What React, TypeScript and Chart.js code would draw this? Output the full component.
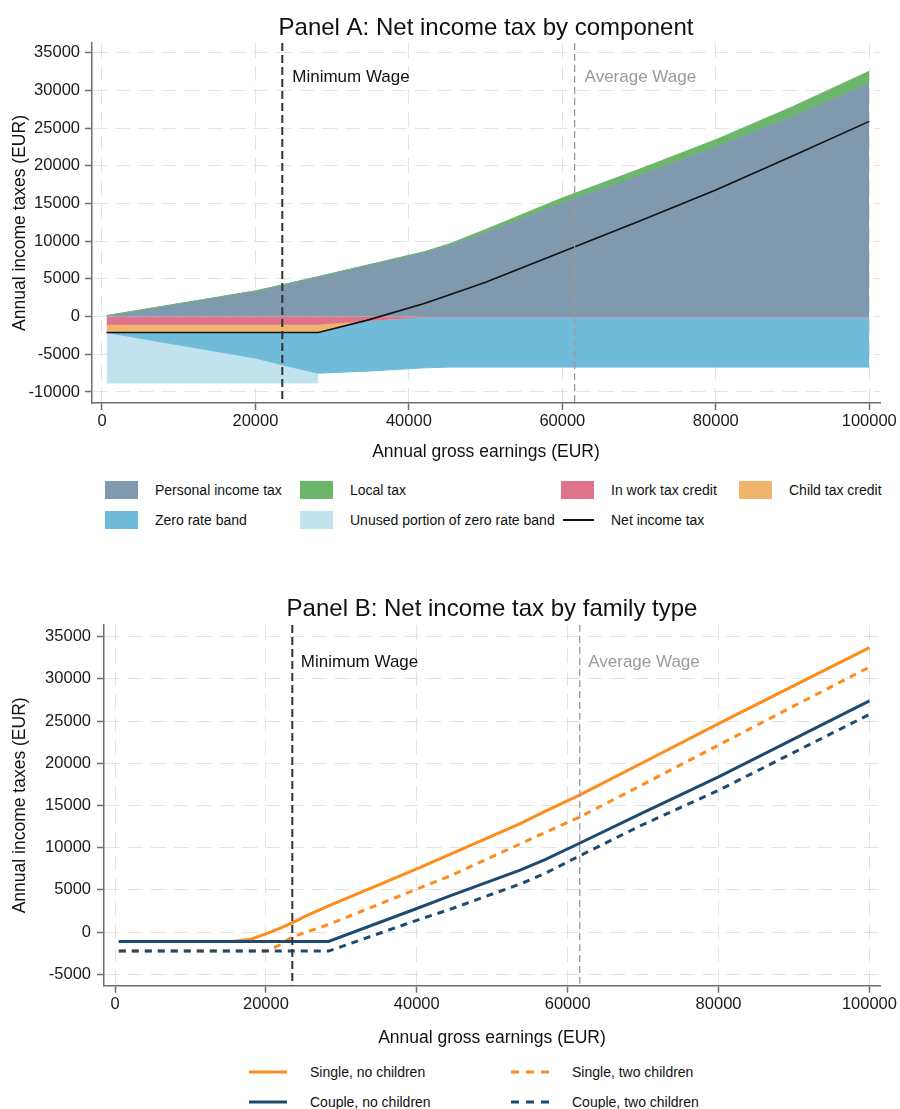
import React, { useEffect, useRef } from 'react';
import { Chart, registerables } from 'chart.js';

Chart.register(...registerables);

const FONT = '"Liberation Sans", Arial, Helvetica, sans-serif';

// ---------- Panel A: Net income tax by component ----------
const earningsA = [600, 20000, 23500, 28200, 34500, 42000, 45400, 50000, 60000, 70000, 80000, 90000, 100000];
const personalIncomeTax = [130, 3400, 4200, 5300, 6800, 8550, 9500, 11200, 15100, 18750, 22550, 26600, 31000];
const localTax = [0, 0, 0, 0, 0, 60, 200, 350, 650, 790, 920, 1250, 1550];
const inWorkTaxCredit = [-1000, -1000, -1000, -1000, -540, 0, 0, 0, 0, 0, 0, 0, 0];
const childTaxCredit = [-1100, -1100, -1100, -1100, 0, 0, 0, 0, 0, 0, 0, 0, 0];
const zeroRateBand = [0, -3400, -4300, -5400, -6700, -6800, -6700, -6700, -6700, -6700, -6700, -6700, -6700];
const unusedZeroRateBand: (number | null)[] = [-6700, -3300, -2400, -1300, null, null, null, null, null, null, null, null, null];
const netIncomeTax = [-2100, -2100, -2100, -2100, -500, 1750, 2950, 4550, 8600, 12650, 16800, 21300, 25900];

const componentNames = [
  'Personal income tax',
  'Local tax',
  'In work tax credit',
  'Child tax credit',
  'Zero rate band',
  'Unused portion of zero rate band',
  'Net income tax',
];
const componentColors = ['#7f99ae', '#6cb66c', '#e0728c', '#f0b46c', '#6fbbd9', '#c0e3ee', '#111111'];

// ---------- Panel B: Net income tax by family type ----------
const earningsB = [500, 15500, 18000, 20000, 21900, 23400, 25400, 28300, 40000, 44400, 53700, 57000, 61500, 70000, 80000, 90000, 100000];
const singleNoChildren = [-1100, -1100, -850, -200, 480, 1050, 1950, 3100, 7500, 9200, 12850, 14300, 16200, 20100, 24700, 29200, 33700];
const singleTwoChildren = [-2250, -2250, -2250, -2250, -1500, -600, 0, 900, 5100, 6650, 10450, 11800, 13600, 17500, 22150, 26800, 31400];
const coupleNoChildren = [-1100, -1100, -1100, -1100, -1100, -1100, -1100, -1100, 2800, 4300, 7350, 8600, 10500, 14150, 18400, 22900, 27400];
const coupleTwoChildren = [-2250, -2250, -2250, -2250, -2250, -2250, -2250, -2250, 1400, 2700, 5700, 6950, 9000, 12750, 16800, 21300, 25800];

const familyNames = ['Single, no children', 'Single, two children', 'Couple, no children', 'Couple, two children'];
const familyColors = ['#ff8c1a', '#ff8c1a', '#1f4a70', '#1f4a70'];
const familyDashed = [false, true, false, true];

// ---------- shared ----------
const minimumWage = 23500;
const averageWage = 61600;
const xTicks = [0, 20000, 40000, 60000, 80000, 100000];
const yTicksA = [-10000, -5000, 0, 5000, 10000, 15000, 20000, 25000, 30000, 35000];
const yTicksB = [-5000, 0, 5000, 10000, 15000, 20000, 25000, 30000, 35000];

const pts = (xs: number[], ys: (number | null)[]) =>
  xs.map((x, i) => (ys[i] === null ? null : { x, y: ys[i] as number })).filter(Boolean) as { x: number; y: number }[];

const sumArr = (...arrs: number[][]) => arrs[0].map((_, i) => arrs.reduce((s, a) => s + a[i], 0));

const wagePlugin = {
  id: 'wageLines',
  afterDraw(chart: any, _args: any, opts: any) {
    const { ctx, chartArea } = chart;
    const x = chart.scales.x;
    for (const m of opts.markers) {
      const px = x.getPixelForValue(m.value);
      ctx.save();
      ctx.strokeStyle = m.color;
      ctx.lineWidth = m.width;
      ctx.setLineDash(m.dash);
      ctx.beginPath();
      ctx.moveTo(px, chartArea.top);
      ctx.lineTo(px, chartArea.bottom);
      ctx.stroke();
      ctx.setLineDash([]);
      ctx.fillStyle = m.textColor;
      ctx.font = `17px ${FONT}`;
      ctx.textBaseline = 'middle';
      ctx.textAlign = 'left';
      ctx.fillText(m.label, px + opts.labelDx, chartArea.top + opts.labelDy);
      ctx.restore();
    }
  },
};

function makeOptions(p: {
  title: string;
  titlePad: { top: number; bottom: number };
  xMin: number; xMax: number; yMin: number; yMax: number;
  yTicks: number[]; yWidth: number; xHeight: number;
  yTickPad: number; xTitlePadBottom: number; labelDx: number; labelDy: number;
}) {
  const gridColor = 'rgba(185,185,185,0.38)';
  const axisColor = '#6e6e6e';
  const tickFont = { family: FONT, size: 16.5 };
  const titleFont = { family: FONT, size: 17.5 };
  return {
    responsive: false,
    animation: false,
    layout: { padding: { left: 0, right: 20, top: 0, bottom: 0 } },
    elements: { point: { radius: 0, hoverRadius: 0 }, line: { tension: 0 } },
    plugins: {
      legend: { display: false },
      tooltip: { enabled: false },
      title: {
        display: true,
        text: p.title,
        fullSize: false,
        color: '#111',
        font: { family: FONT, size: 24, weight: 'normal' },
        padding: p.titlePad,
      },
      wageLines: {
        labelDx: p.labelDx,
        labelDy: p.labelDy,
        markers: [
          { value: minimumWage, label: 'Minimum Wage', color: '#333', width: 2, dash: [8, 4], textColor: '#111' },
          { value: averageWage, label: 'Average Wage', color: '#9a9a9a', width: 1.3, dash: [7, 4], textColor: '#9a9a9a' },
        ],
      },
    },
    scales: {
      x: {
        type: 'linear',
        min: p.xMin,
        max: p.xMax,
        z: 1,
        afterBuildTicks: (s: any) => { s.ticks = xTicks.map((v) => ({ value: v })); },
        afterFit: (s: any) => { s.height = p.xHeight; },
        ticks: { autoSkip: false, maxRotation: 0, padding: 2, color: '#1a1a1a', font: tickFont, callback: (v: any) => String(v) },
        grid: { color: gridColor, lineWidth: 1, tickColor: axisColor, tickWidth: 1.5, tickLength: 7, tickBorderDash: [] },
        border: { display: true, color: axisColor, width: 1.5, dash: [15, 8] },
        title: { display: true, text: 'Annual gross earnings (EUR)', color: '#111', font: titleFont, padding: { top: 0, bottom: p.xTitlePadBottom } },
      },
      y: {
        type: 'linear',
        min: p.yMin,
        max: p.yMax,
        z: 1,
        afterBuildTicks: (s: any) => { s.ticks = p.yTicks.map((v) => ({ value: v })); },
        afterFit: (s: any) => { s.width = p.yWidth; },
        ticks: { autoSkip: false, padding: p.yTickPad, color: '#1a1a1a', font: tickFont, callback: (v: any) => String(v) },
        grid: { color: gridColor, lineWidth: 1, tickColor: axisColor, tickWidth: 1.5, tickLength: 7, tickBorderDash: [] },
        border: { display: true, color: axisColor, width: 1.5, dash: [15, 8] },
        title: { display: true, text: 'Annual income taxes (EUR)', color: '#111', font: titleFont, padding: { top: 10, bottom: 0 } },
      },
    },
  };
}

function configA(): any {
  const pitTop = personalIncomeTax;
  const localTop = sumArr(personalIncomeTax, localTax);
  const pinkBottom = inWorkTaxCredit;
  const orangeBottom = sumArr(inWorkTaxCredit, childTaxCredit);
  const blueBottom = sumArr(inWorkTaxCredit, childTaxCredit, zeroRateBand);
  const lightBottom = unusedZeroRateBand.map((u, i) => (u === null ? null : blueBottom[i] + u));
  const area = (data: any, color: string, fill: any) => ({
    data, fill, backgroundColor: color, borderColor: color, borderWidth: 1, pointRadius: 0,
  });
  return {
    type: 'line',
    data: {
      datasets: [
        { label: componentNames[6], data: pts(earningsA, netIncomeTax), borderColor: componentColors[6], borderWidth: 1.6, fill: false, pointRadius: 0 },
        { label: componentNames[1], ...area(pts(earningsA, localTop), componentColors[1], 2) },
        { label: componentNames[0], ...area(pts(earningsA, pitTop), componentColors[0], 'origin') },
        { label: componentNames[2], ...area(pts(earningsA, pinkBottom), componentColors[2], 'origin') },
        { label: componentNames[3], ...area(pts(earningsA, orangeBottom), componentColors[3], 3) },
        { label: componentNames[4], ...area(pts(earningsA, blueBottom), componentColors[4], 4) },
        { label: componentNames[5], ...area(pts(earningsA, lightBottom), componentColors[5], 5) },
      ],
    },
    options: makeOptions({
      title: 'Panel A: Net income tax by component',
      titlePad: { top: 13.6, bottom: 0.6 },
      xMin: -1300, xMax: 101400, yMin: -11460, yMax: 36300,
      yTicks: yTicksA, yWidth: 92, xHeight: 67, yTickPad: 5, xTitlePadBottom: 7.5,
      labelDx: 10, labelDy: 34,
    }),
    plugins: [wagePlugin],
  };
}

function configB(): any {
  const series = [coupleNoChildren, coupleTwoChildren, singleNoChildren, singleTwoChildren];
  const idx = [2, 3, 0, 1];
  return {
    type: 'line',
    data: {
      datasets: series.map((s, k) => ({
        label: familyNames[idx[k]],
        data: pts(earningsB, s),
        borderColor: familyColors[idx[k]],
        borderWidth: 3,
        borderDash: familyDashed[idx[k]] ? [7, 6] : [],
        borderCapStyle: 'butt',
        fill: false,
        pointRadius: 0,
      })),
    },
    options: makeOptions({
      title: 'Panel B: Net income tax by family type',
      titlePad: { top: 14.6, bottom: 1.6 },
      xMin: -1460, xMax: 101400, yMin: -6350, yMax: 36390,
      yTicks: yTicksB, yWidth: 104, xHeight: 64.3, yTickPad: 6, xTitlePadBottom: 1.5,
      labelDx: 8.5, labelDy: 37,
    }),
    plugins: [wagePlugin],
  };
}

function ChartCanvas({ make, top, height }: { make: () => any; top: number; height: number }) {
  const ref = useRef<HTMLCanvasElement>(null);
  useEffect(() => {
    const chart = new Chart(ref.current as HTMLCanvasElement, make());
    return () => chart.destroy();
  }, [make]);
  return (
    <canvas
      ref={ref}
      width={900}
      height={height}
      style={{ position: 'absolute', left: 0, top, width: 900, height }}
    />
  );
}

const labelStyle = (x: number, y: number): React.CSSProperties => ({
  position: 'absolute',
  left: x,
  top: y,
  transform: 'translateY(-50%)',
  fontFamily: FONT,
  fontSize: 14,
  lineHeight: '16px',
  color: '#111',
  whiteSpace: 'nowrap',
});

function LegendA() {
  const colX = [105, 300, 561, 739];
  const rowY = [490, 520];
  return (
    <>
      {componentNames.map((name, i) => {
        const x = colX[i % 4];
        const y = rowY[Math.floor(i / 4)];
        const isLine = i === 6;
        return (
          <React.Fragment key={name}>
            {isLine ? (
              <div style={{ position: 'absolute', left: x + 2, top: y - 0.75, width: 31, height: 1.5, background: componentColors[i] }} />
            ) : (
              <div style={{ position: 'absolute', left: x, top: y - 9, width: 33, height: 18, background: componentColors[i] }} />
            )}
            <div style={labelStyle(x + 50, y)}>{name}</div>
          </React.Fragment>
        );
      })}
    </>
  );
}

function LegendB() {
  const colX = [249, 511];
  const rowY = [1072, 1102];
  return (
    <>
      {familyNames.map((name, i) => {
        const x = colX[i % 2];
        const y = rowY[Math.floor(i / 2)];
        return (
          <React.Fragment key={name}>
            <svg style={{ position: 'absolute', left: x, top: y - 3 }} width={38} height={6}>
              <line x1={0} y1={3} x2={38} y2={3} stroke={familyColors[i]} strokeWidth={3} strokeDasharray={familyDashed[i] ? '8 7' : undefined} />
            </svg>
            <div style={labelStyle(x + 61, y)}>{name}</div>
          </React.Fragment>
        );
      })}
    </>
  );
}

export default function App() {
  return (
    <div style={{ position: 'absolute', left: 0, top: 0, width: 900, height: 1109, overflow: 'hidden', background: '#fff' }}>
      <ChartCanvas make={configA} top={0} height={470} />
      <LegendA />
      <ChartCanvas make={configB} top={580} height={470} />
      <LegendB />
    </div>
  );
}
